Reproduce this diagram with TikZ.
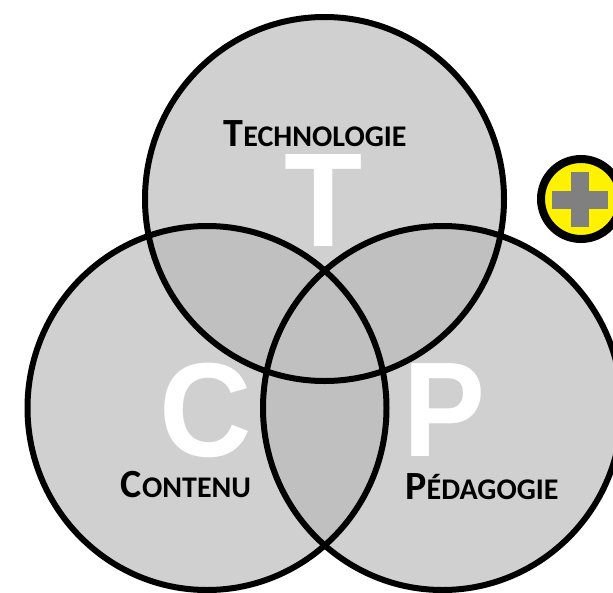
\documentclass[tikz,border=0pt]{standalone}
\usepackage{fontspec}
\usetikzlibrary{shapes.geometric}
\setmainfont{Carlito}
\newfontfamily\bigfont{Liberation Sans}
\newcommand{\capA}{\fontsize{40}{40}\selectfont\bfseries}
\newcommand{\capB}{\fontsize{30}{30}\selectfont\bfseries}
\definecolor{base}{HTML}{D0D0D0}
\definecolor{lap}{HTML}{C0C0C0}
\begin{document}
\begin{tikzpicture}[x=1pt,y=-1pt,
  ring/.style={ellipse,draw=black,line width=6pt,minimum width=359pt,minimum height=364pt,inner sep=0pt},
  bigletter/.style={text=white,inner sep=0pt,font=\bigfont\fontsize{128}{128}\selectfont\bfseries,anchor=base},
  caption/.style={text=black,inner sep=0pt,anchor=base},
  shape T/.style={x radius=179.5,y radius=182}]
\useasboundingbox (0,0) rectangle (613,592);
\path[clip] (0,0) rectangle (613,592);
% fills
\fill[base] (324.5,199) ellipse [x radius=179.5,y radius=182];
\fill[base] (207,408) ellipse [x radius=179.5,y radius=182];
\fill[base] (442.5,408) ellipse [x radius=179.5,y radius=182];
\begin{scope}
  \clip (324.5,199) ellipse [x radius=179.5,y radius=182];
  \fill[lap] (207,408) ellipse [x radius=179.5,y radius=182];
  \fill[lap] (442.5,408) ellipse [x radius=179.5,y radius=182];
\end{scope}
\begin{scope}
  \clip (207,408) ellipse [x radius=179.5,y radius=182];
  \fill[lap] (442.5,408) ellipse [x radius=179.5,y radius=182];
\end{scope}
% big letters
\node[bigletter] (bigT) at (324,246.7) {\scalebox{1}[1.045]{T}};
\node[bigletter] (bigC) at (206,456.5) {\scalebox{1}[1.045]{C}};
\node[bigletter] (bigP) at (444,456) {\scalebox{0.96}[1.055]{P}};
% outlines
\node[ring] (ringT) at (324.5,199) {};
\node[ring] (ringC) at (207,408) {};
\node[ring] (ringP) at (442.5,408) {};
% captions
\node[caption] (capT) at (315,146) {\capA T\capB ECHNOLOGIE};
\node[caption] (capC) at (186,497) {\capA C\capB ONTENU};
\node[caption] (capP) at (482,499) {\capA P\capB ÉDAGOGIE};
% plus badge
\node[circle,draw=black,fill=yellow,line width=8pt,minimum size=80pt,inner sep=0pt] (badge) at (581,199) {};
\fill[gray] (571,171.7) rectangle (589.3,227.3);
\fill[gray] (552.3,190.7) rectangle (608.3,208.7);
\end{tikzpicture}
\end{document}
